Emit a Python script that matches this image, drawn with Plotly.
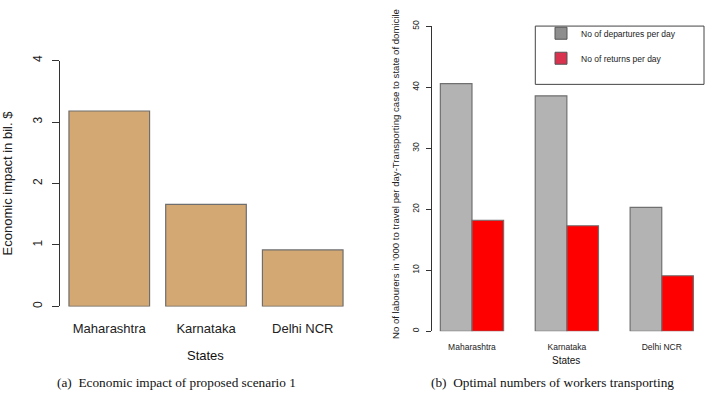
import plotly.graph_objects as go

# ---- data ----
states = ["Maharashtra", "Karnataka", "Delhi NCR"]
economic_impact = [3.18, 1.66, 0.92]
departures = [40.6, 38.6, 20.3]
returns = [18.2, 17.3, 9.1]
left_yticks = [0, 1, 2, 3, 4]
right_yticks = [0, 10, 20, 30, 40, 50]

W, H = 705, 393
def px(x):  # pixel x -> paper
    return x / W
def py(y):  # pixel y -> paper
    return 1 - y / H

SANS = "Liberation Sans, Arial, sans-serif"
SERIF = "Liberation Serif, Times New Roman, serif"
AX = "#333333"

fig = go.Figure()

# left chart
fig.add_trace(go.Bar(
    x=states, y=economic_impact, xaxis="x", yaxis="y", width=1/1.2,
    marker=dict(color="#D4A872", line=dict(color="#6E6E6E", width=1.2)),
    showlegend=False, hoverinfo="x+y"))

# right chart
fig.add_trace(go.Bar(
    x=states, y=departures, xaxis="x2", yaxis="y2", width=1/3, offset=-1/3,
    name="No of departures per day",
    marker=dict(color="#B3B3B3", line=dict(color="#707070", width=1.2)),
    showlegend=False))
fig.add_trace(go.Bar(
    x=states, y=returns, xaxis="x2", yaxis="y2", width=1/3, offset=0,
    name="No of returns per day",
    marker=dict(color="#FF0000", line=dict(color="#707070", width=1.2)),
    showlegend=False))

# legend-only entries (legend swatches use different shades in the reference)
fig.add_trace(go.Bar(x=[None], y=[None], xaxis="x3", yaxis="y3",
                     name="No of departures per day", legendgroup="a",
                     marker=dict(color="#8E8E8E", line=dict(color="#555555", width=1))))
fig.add_trace(go.Bar(x=[None], y=[None], xaxis="x3", yaxis="y3",
                     name="No of returns per day", legendgroup="b",
                     marker=dict(color="#D8324F", line=dict(color="#555555", width=1))))

fig.update_layout(
    width=W, height=H,
    margin=dict(l=0, r=0, t=0, b=0),
    paper_bgcolor="white", plot_bgcolor="white",
    barmode="group",
    showlegend=True,
    legend=dict(x=px(541), y=py(13), xanchor="left", yanchor="top",
                font=dict(family=SANS, size=8.5, color="#222222"),
                bgcolor="rgba(0,0,0,0)", borderwidth=0,
                traceorder="grouped", tracegroupgap=6, itemwidth=30),
    xaxis=dict(domain=[px(58), px(354)], anchor="y", type="category",
               range=[-0.53, 2.53], showline=False, showgrid=False, zeroline=False,
               ticks="outside", ticklen=10, tickcolor="rgba(0,0,0,0)",
               tickfont=dict(family=SANS, size=13, color="#222222")),
    yaxis=dict(domain=[py(306.7), py(55.7)], anchor="free", position=px(59),
               range=[0, 4], tickvals=left_yticks, showline=True, linecolor=AX, linewidth=1,
               showgrid=False, zeroline=False, ticks="outside", ticklen=7, tickcolor=AX,
               ticklabelstandoff=5,
               tickangle=-90, tickfont=dict(family=SANS, size=12, color="#222222"),
               title=dict(text="Economic impact in bil. $", standoff=20,
                          font=dict(family=SANS, size=13, color="#222222"))),
    xaxis2=dict(domain=[px(430.7), px(703.5)], anchor="y2", type="category",
                range=[-0.435, 2.44], showline=False, showgrid=False, zeroline=False,
                ticks="outside", ticklen=8, tickcolor="rgba(0,0,0,0)",
                tickfont=dict(family=SANS, size=8.5, color="#222222")),
    yaxis2=dict(domain=[py(332), py(20.7)], anchor="free", position=px(430.7),
                range=[0, 50], tickvals=right_yticks, showline=True, linecolor=AX, linewidth=1,
                showgrid=False, zeroline=False, ticks="outside", ticklen=5, tickcolor=AX,
                ticklabelstandoff=3,
                tickangle=-90, tickfont=dict(family=SANS, size=8.5, color="#222222")),
    xaxis3=dict(domain=[0, 0.01], anchor="y3", visible=False),
    yaxis3=dict(domain=[0, 0.01], anchor="x3", visible=False),
)

# legend frame
fig.add_shape(type="rect", xref="paper", yref="paper",
              x0=px(535.3), x1=px(704), y0=py(80), y1=py(20.5),
              line=dict(color="#444444", width=1), fillcolor="rgba(0,0,0,0)")

ann = [
    dict(text="States", x=px(206), y=py(357), font=dict(family=SANS, size=13)),
    dict(text="States", x=px(566), y=py(362), font=dict(family=SANS, size=10)),
    dict(text="(a)  Economic impact of proposed scenario 1", x=px(177), y=py(384),
         font=dict(family=SERIF, size=13.3)),
    dict(text="(b)  Optimal numbers of workers transporting", x=px(552), y=py(384),
         font=dict(family=SERIF, size=13.3)),
]
for a in ann:
    a["font"]["color"] = "#111111"
    fig.add_annotation(xref="paper", yref="paper", showarrow=False,
                       xanchor="center", yanchor="middle", **a)

fig.add_annotation(xref="paper", yref="paper", showarrow=False,
                   text="No of labourers in '000 to travel per day-Transporting case to state of domicile",
                   textangle=-90, x=px(395), y=py(342), xanchor="center", yanchor="bottom",
                   font=dict(family=SANS, size=9.6, color="#222222"))

fig.write_html("out.html", config={"displayModeBar": False},
               post_script="document.body.style.margin='0px';")
